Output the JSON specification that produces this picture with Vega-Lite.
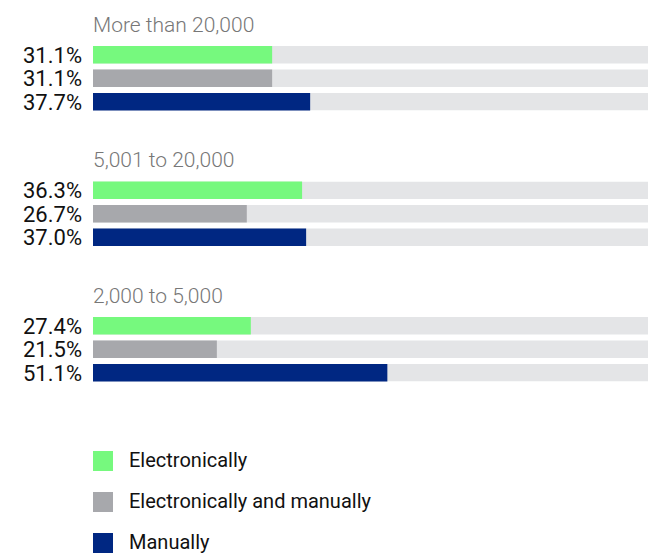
{
  "$schema": "https://vega.github.io/schema/vega-lite/v6.json",
  "padding": {"left": 22, "top": 14, "right": 0, "bottom": 0},
  "autosize": {"type": "pad"},
  "background": "white",
  "data": {"values": [
    {"group": "More than 20,000", "method": "Electronically", "value": 0.311},
    {"group": "More than 20,000", "method": "Electronically and manually", "value": 0.311},
    {"group": "More than 20,000", "method": "Manually", "value": 0.377},
    {"group": "5,001 to 20,000", "method": "Electronically", "value": 0.363},
    {"group": "5,001 to 20,000", "method": "Electronically and manually", "value": 0.267},
    {"group": "5,001 to 20,000", "method": "Manually", "value": 0.370},
    {"group": "2,000 to 5,000", "method": "Electronically", "value": 0.274},
    {"group": "2,000 to 5,000", "method": "Electronically and manually", "value": 0.215},
    {"group": "2,000 to 5,000", "method": "Manually", "value": 0.511}
  ]},
  "facet": {
    "field": "group", "type": "nominal",
    "sort": ["More than 20,000", "5,001 to 20,000", "2,000 to 5,000"],
    "header": {"title": null, "labelAnchor": "start", "labelAlign": "left", "labelFontSize": 21, "labelColor": "#777777", "labelFont": "Roboto", "labelFontWeight": 300, "labelPadding": 9}
  },
  "columns": 1,
  "spacing": 35.5,
  "spec": {
    "width": 555,
    "height": 64.5,
    "encoding": {
      "y": {"field": "method", "type": "nominal", "sort": ["Electronically", "Electronically and manually", "Manually"], "axis": null, "scale": {"paddingInner": 0.255, "paddingOuter": 0}}
    },
    "layer": [
      {"mark": {"type": "bar", "color": "#E4E5E7", "clip": true}, "encoding": {"x": {"datum": 1, "type": "quantitative", "scale": {"domain": [0, 0.9635], "nice": false, "zero": true}, "axis": null}}},
      {"mark": {"type": "bar"}, "encoding": {"x": {"field": "value", "type": "quantitative"}, "color": {"field": "method", "type": "nominal", "sort": ["Electronically", "Electronically and manually", "Manually"], "scale": {"domain": ["Electronically", "Electronically and manually", "Manually"], "range": ["#76F97E", "#A7A8AC", "#002782"]}, "legend": {"title": null, "orient": "bottom", "direction": "vertical", "symbolType": "square", "symbolSize": 400, "symbolStrokeWidth": 0, "symbolOpacity": 1, "labelFontSize": 20, "labelFont": "Roboto", "labelColor": "#111111", "labelOffset": 16, "labelLimit": 0, "rowPadding": 21, "offset": 66}}}},
      {"mark": {"type": "text", "align": "right", "baseline": "middle", "dx": -11, "dy": 1, "fontSize": 22, "font": "Roboto", "color": "#111111"}, "encoding": {"x": {"datum": 0, "type": "quantitative"}, "text": {"field": "value", "type": "quantitative", "format": ".1%"}}}
    ]
  },
  "config": {"view": {"stroke": null}}
}
